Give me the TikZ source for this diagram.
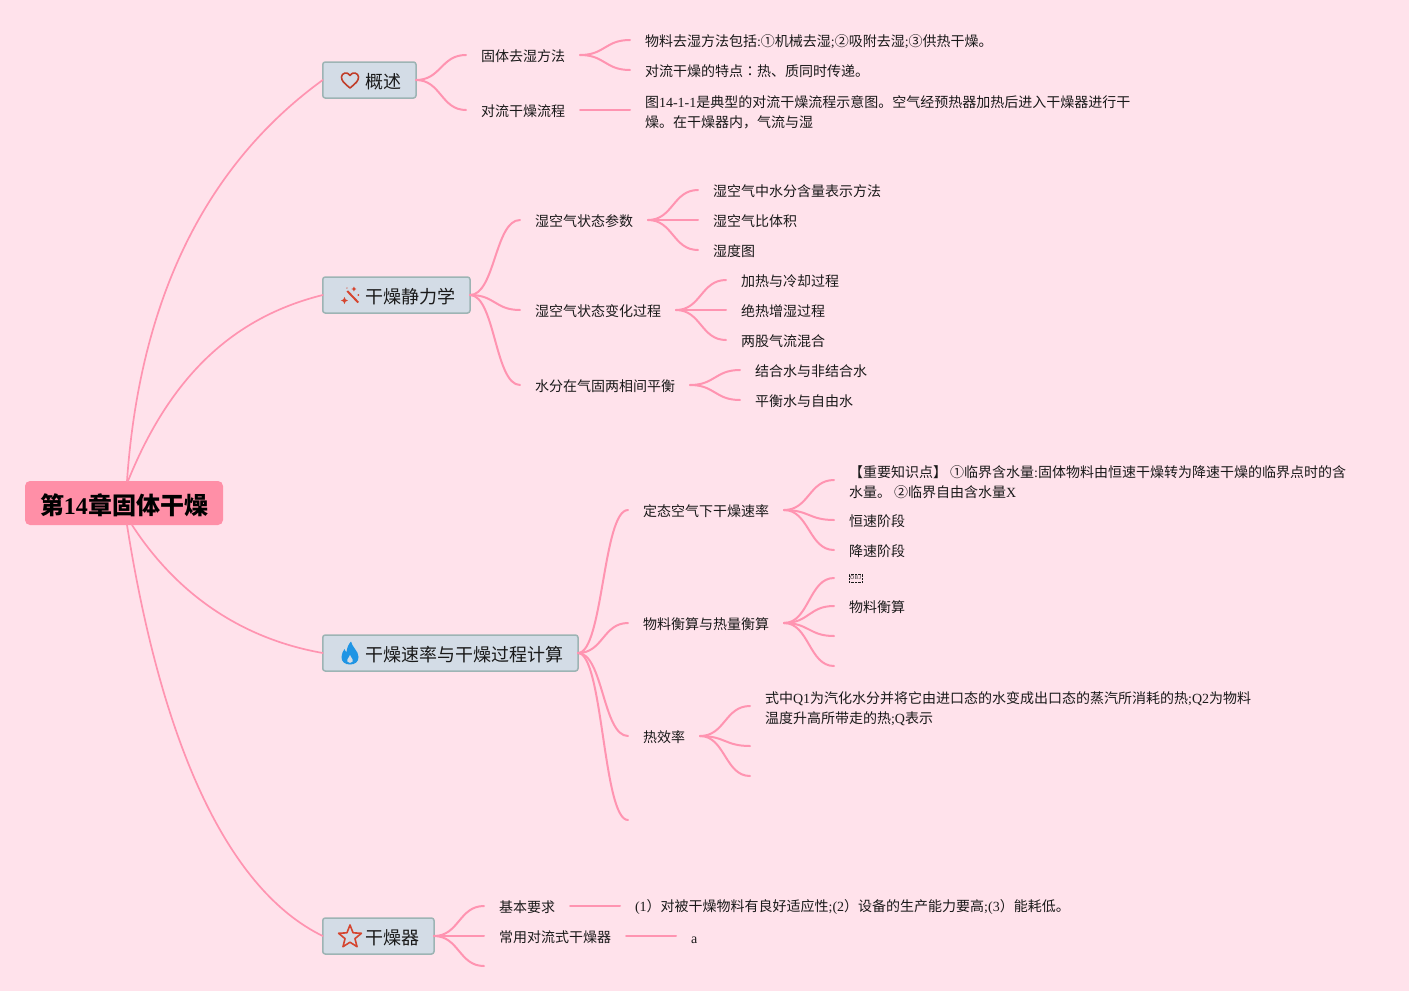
\documentclass[tikz,border=0pt]{standalone}
\usepackage{xcolor}
\usepackage{fontspec}
\setmainfont{Liberation Serif}
\newfontfamily\cjk{Noto Sans CJK SC}
\newfontfamily\cjktc{Noto Sans CJK TC}
\usetikzlibrary{positioning}
\definecolor{pagebg}{HTML}{FFE2EB}
\definecolor{rootfill}{HTML}{FF8FA7}
\definecolor{linkpink}{HTML}{FF94B1}
\definecolor{topicfill}{HTML}{D3DCE6}
\definecolor{topicedge}{HTML}{9DB4B4}
\definecolor{iconred}{HTML}{D5452F}
\definecolor{iconblue}{HTML}{1F95E4}
\newcommand{\lat}[1]{{\rmfamily #1}}

\begin{document}
\begin{tikzpicture}[
    x=1pt, y=1pt,
    every node/.style={font=\cjk\fontsize{14}{20}\selectfont, text=black!90, outer sep=0pt},
    rootbox/.style={fill=rootfill, rounded corners=5pt, inner xsep=15pt,
                    minimum height=44pt, text=black,
                    execute at begin node={\rule{0pt}{25pt}},
                    font=\cjk\bfseries\fontsize{24}{28}\selectfont},
    topic/.style={draw=topicedge, fill=topicfill, line width=1.5pt, rounded corners=2.5pt,
                  inner xsep=15pt, minimum height=36pt,
                  execute at begin node={\rule{0pt}{18.5pt}},
                  font=\cjk\fontsize{18}{22}\selectfont},
    sub/.style={inner xsep=15pt, inner ysep=0pt, align=left,
                execute at begin node={\rule{0pt}{14.5pt}}},
    subtwo/.style={inner xsep=15pt, inner ysep=0pt, align=left,
                execute at begin node={\rule{0pt}{36.5pt}}},
    link/.style={linkpink, line width=1.7pt, line cap=round},
    twig/.style={link, line width=2pt, out=0, in=180, min distance=25pt, max distance=25pt},
]
\useasboundingbox (0,0) rectangle (1409,-991);
\fill[pagebg] (0,0) rectangle (1409,-991);

\node[rootbox] (book) at (124,-503) {第\lat{14}章固体干燥};

\node[topic, right=99.75pt of book, yshift=423pt]  (gaishu)  {\hspace{27.25pt}概述};
\node[topic, right=99.75pt of book, yshift=208pt]  (jingli)  {\hspace{27.25pt}干燥静力学};
\node[topic, right=99.75pt of book, yshift=-150pt] (sulv)    {\hspace{27.25pt}干燥速率与干燥过程计算};
\node[topic, right=99.75pt of book, yshift=-433pt] (qiju)    {\hspace{27.25pt}干燥器};

% first branch
\node[sub, right=50pt of gaishu, yshift=25pt]  (fangfa)  {固体去湿方法};
\node[sub, right=50pt of gaishu, yshift=-30pt] (liucheng) {对流干燥流程};
\node[sub, right=50pt of fangfa, yshift=15pt]  (fangfaA) {物料去湿方法包括\lat{:}①机械去湿\lat{;}②吸附去湿\lat{;}③供热干燥。};
\node[sub, right=50pt of fangfa, yshift=-15pt] (fangfaB) {对流干燥的特点{\cjktc ：}热、质同时传递。};
\node[subtwo, right=50pt of liucheng]          (liuchengA) {图\lat{14-1-1}是典型的对流干燥流程示意图。空气经预热器加热后进入干燥器进行干\\燥。在干燥器内，气流与湿};

% second branch
\node[sub, right=50pt of jingli, yshift=75pt]   (canshu) {湿空气状态参数};
\node[sub, right=50pt of jingli, yshift=-15pt]  (bianhua) {湿空气状态变化过程};
\node[sub, right=50pt of jingli, yshift=-90pt]  (pingheng) {水分在气固两相间平衡};
\node[sub, right=50pt of canshu, yshift=30pt]   (canshuA) {湿空气中水分含量表示方法};
\node[sub, right=50pt of canshu]                (canshuB) {湿空气比体积};
\node[sub, right=50pt of canshu, yshift=-30pt]  (canshuC) {湿度图};
\node[sub, right=50pt of bianhua, yshift=30pt]  (bianhuaA) {加热与冷却过程};
\node[sub, right=50pt of bianhua]               (bianhuaB) {绝热增湿过程};
\node[sub, right=50pt of bianhua, yshift=-30pt] (bianhuaC) {两股气流混合};
\node[sub, right=50pt of pingheng, yshift=15pt]  (pinghengA) {结合水与非结合水};
\node[sub, right=50pt of pingheng, yshift=-15pt] (pinghengB) {平衡水与自由水};

% third branch
\node[sub, right=50pt of sulv, yshift=143pt]  (dingtai) {定态空气下干燥速率};
\node[sub, right=50pt of sulv, yshift=30pt]   (hengsuan) {物料衡算与热量衡算};
\node[sub, right=50pt of sulv, yshift=-83pt]  (rexiao) {热效率};
\coordinate[right=50pt of sulv, yshift=-167pt] (sulvEnd);
\node[subtwo, right=50pt of dingtai, yshift=30pt] (dingtaiA) {【重要知识点】 ①临界含水量\lat{:}固体物料由恒速干燥转为降速干燥的临界点时的含\\水量。 ②临界自由含水量\lat{X}};
\node[sub, right=50pt of dingtai, yshift=-10pt] (dingtaiB) {恒速阶段};
\node[sub, right=50pt of dingtai, yshift=-40pt] (dingtaiC) {降速阶段};
\node[right=50pt of hengsuan, yshift=45pt, inner xsep=15pt, inner ysep=0pt] (hengsuanA) {\tikz\node[draw, densely dotted, line width=.4pt, inner xsep=1pt, inner ysep=2pt, text=black!80, font=\sffamily\fontsize{5.5}{6}\selectfont] (objbox) {OBJ};};
\node[sub, right=50pt of hengsuan, yshift=17pt] (hengsuanB) {物料衡算};
\coordinate[right=50pt of hengsuan, yshift=-13pt] (hengsuanC);
\coordinate[right=50pt of hengsuan, yshift=-43pt] (hengsuanD);
\node[subtwo, right=50pt of rexiao, yshift=30pt] (rexiaoA) {式中\lat{Q1}为汽化水分并将它由进口态的水变成出口态的蒸汽所消耗的热\lat{;Q2}为物料\\温度升高所带走的热\lat{;Q}表示};
\coordinate[right=50pt of rexiao, yshift=-10pt] (rexiaoB);
\coordinate[right=50pt of rexiao, yshift=-40pt] (rexiaoC);

% fourth branch
\node[sub, right=50pt of qiju, yshift=30pt] (yaoqiu) {基本要求};
\node[sub, right=50pt of qiju]              (changyong) {常用对流式干燥器};
\coordinate[right=50pt of qiju, yshift=-30pt] (qijuEnd);
\node[sub, right=50pt of yaoqiu]    (yaoqiuA) {\lat{(1}）对被干燥物料有良好适应性\lat{;(2}）设备的生产能力要高\lat{;(3}）能耗低。};
\node[sub, right=50pt of changyong] (changyongA) {\lat{a}};

\draw[link] ([xshift=3pt]book.north) to[out=86,in=216,out looseness=1.03,in looseness=.84] (gaishu.west);
\draw[link] ([xshift=4pt]book.north) to[out=68,in=194,out looseness=1.1,in looseness=.85] (jingli.west);
\draw[link] ([xshift=8pt]book.south) to[out=-57,in=170,out looseness=.95,in looseness=.89] (sulv.west);
\draw[link] ([xshift=3pt]book.south) to[out=-81,in=154,out looseness=1.29,in looseness=.58] (qiju.west);

\draw[twig] (gaishu.east) to (fangfa.west);
\draw[twig] (gaishu.east) to (liucheng.west);
\draw[twig] (fangfa.east) to (fangfaA.west);
\draw[twig] (fangfa.east) to (fangfaB.west);
\draw[twig] (liucheng.east) to (liuchengA.west);

\draw[twig] (jingli.east) to (canshu.west);
\draw[twig] (jingli.east) to (bianhua.west);
\draw[twig] (jingli.east) to (pingheng.west);
\draw[twig] (canshu.east) to (canshuA.west);
\draw[twig] (canshu.east) to (canshuB.west);
\draw[twig] (canshu.east) to (canshuC.west);
\draw[twig] (bianhua.east) to (bianhuaA.west);
\draw[twig] (bianhua.east) to (bianhuaB.west);
\draw[twig] (bianhua.east) to (bianhuaC.west);
\draw[twig] (pingheng.east) to (pinghengA.west);
\draw[twig] (pingheng.east) to (pinghengB.west);

\draw[twig] (sulv.east) to (dingtai.west);
\draw[twig] (sulv.east) to (hengsuan.west);
\draw[twig] (sulv.east) to (rexiao.west);
\draw[twig] (sulv.east) to (sulvEnd);
\draw[twig] (dingtai.east) to (dingtaiA.west);
\draw[twig] (dingtai.east) to (dingtaiB.west);
\draw[twig] (dingtai.east) to (dingtaiC.west);
\draw[twig] (hengsuan.east) to (hengsuanA.west);
\draw[twig] (hengsuan.east) to (hengsuanB.west);
\draw[twig] (hengsuan.east) to (hengsuanC);
\draw[twig] (hengsuan.east) to (hengsuanD);
\draw[twig] (rexiao.east) to (rexiaoA.west);
\draw[twig] (rexiao.east) to (rexiaoB);
\draw[twig] (rexiao.east) to (rexiaoC);

\draw[twig] (qiju.east) to (yaoqiu.west);
\draw[twig] (qiju.east) to (changyong.west);
\draw[twig] (qiju.east) to (qijuEnd);
\draw[twig] (yaoqiu.east) to (yaoqiuA.west);
\draw[twig] (changyong.east) to (changyongA.west);

% icons inside the topic boxes
\draw[iconred!90!black, line width=1.6pt, line join=round, shift={(gaishu.west)}]
    (27.25,-8) .. controls (21.25,-3) and (18.75,-1) .. (18.75,3) .. controls (18.75,7) and (24.75,9) .. (27.25,4.5)
    .. controls (29.75,9) and (35.75,7) .. (35.75,3) .. controls (35.75,-1) and (33.25,-3) .. (27.25,-8) -- cycle;
\begin{scope}[shift={(jingli.west)}, iconred]
    \draw[line width=2pt] (24.5,4) -- (35.5,-7.5);
    \fill (21.7,-9) -- (22.8,-6.6) -- (25.2,-5.5) -- (22.8,-4.4) -- (21.7,-2) -- (20.6,-4.4) -- (18.2,-5.5) -- (20.6,-6.6) -- cycle;
    \fill (31.2,8.5) -- (32,6.8) -- (33.7,6) -- (32,5.2) -- (31.2,3.5) -- (30.4,5.2) -- (28.7,6) -- (30.4,6.8) -- cycle;
    \fill (35.7,0) circle (1);
    \fill (24.2,7) circle (.7);
\end{scope}
\begin{scope}[shift={(sulv.west)}, xshift=-.75pt, iconblue]
    \fill[even odd rule] (29,11.5) .. controls (30,6) and (36.5,2) .. (36.5,-4) .. controls (36.5,-9) and (33,-11.5) .. (28,-11.5)
        .. controls (23,-11.5) and (19.5,-9) .. (19.5,-4) .. controls (19.5,-1) and (21,2) .. (22.5,4)
        .. controls (23,2.5) and (23.5,1.5) .. (24.5,1) .. controls (25,5) and (26.5,9) .. (29,11.5) -- cycle
        (28,-10) .. controls (25.5,-10) and (24.5,-8) .. (25.5,-6) .. controls (26.5,-4.5) and (27.5,-3) .. (28,-1.5)
        .. controls (28.5,-3) and (29.5,-4.5) .. (30.5,-6) .. controls (31.5,-8) and (30.5,-10) .. (28,-10) -- cycle;
\end{scope}
\draw[iconred, line width=1.6pt, line join=round, shift={(qiju.west)}, xshift=27.25pt, yshift=-1pt]
    (90:12) -- (126:5.2) -- (162:12) -- (198:5.2) -- (234:12) -- (270:5.2)
    -- (306:12) -- (342:5.2) -- (18:12) -- (54:5.2) -- cycle;
\end{tikzpicture}
\end{document}
